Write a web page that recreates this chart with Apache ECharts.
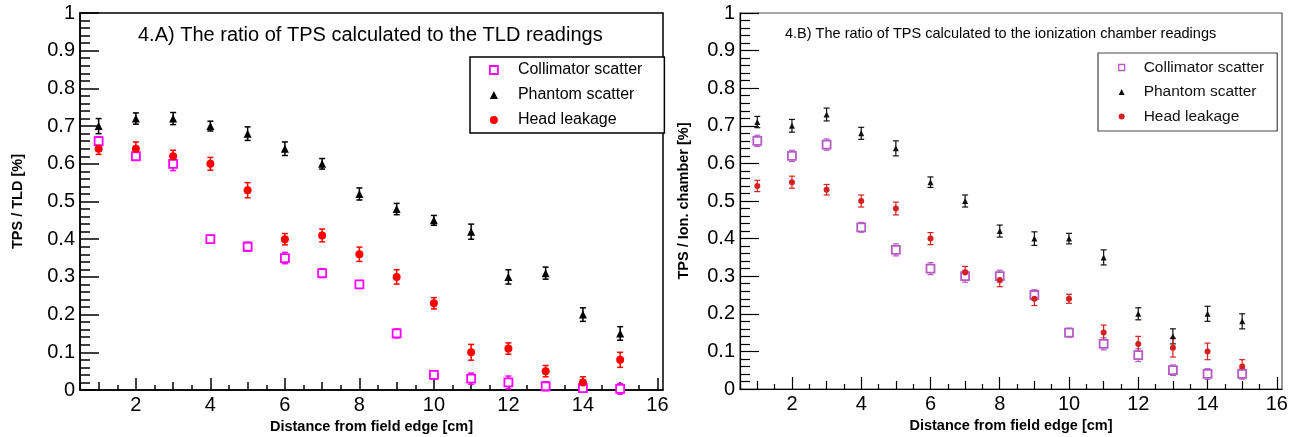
<!DOCTYPE html>
<html>
<head>
<meta charset="utf-8">
<script src="https://cdn.jsdelivr.net/npm/echarts@6/dist/echarts.min.js"></script>
<style>
html,body{margin:0;padding:0;background:#fff;}
#chart{width:1299px;height:437px;}
</style>
</head>
<body>
<div id="chart"></div>
<script>
// ---- data ----
const distances = [1,2,3,4,5,6,7,8,9,10,11,12,13,14,15];
const seriesNames = ['Collimator scatter','Phantom scatter','Head leakage'];
const titleA = '4.A) The ratio of TPS calculated to the TLD readings';
const titleB = '4.B) The ratio of TPS calculated to the ionization chamber readings';
const xTitle = 'Distance from field edge [cm]';
const yTitleA = 'TPS / TLD [%]';
const yTitleB = 'TPS / Ion. chamber [%]';
const xMajorTicks = [2,4,6,8,10,12,14,16];
const xMidTicks = [1,3,5,7,9,11,13,15];
const xMinorTicks = [0.5,1.5,2.5,3.5,4.5,5.5,6.5,7.5,8.5,9.5,10.5,11.5,12.5,13.5,14.5,15.5];

// Panel A (TLD)
const aColl = [0.66,0.62,0.60,0.40,0.38,0.35,0.31,0.28,0.15,0.04,0.03,0.02,0.01,0.005,0.003];
const aCollErr = [0.012,0.01,0.018,0.01,0.012,0.015,0.012,0.01,0.012,0.01,0.015,0.017,0.012,0.01,0.014];
const aPhan = [0.70,0.72,0.72,0.70,0.68,0.64,0.60,0.52,0.48,0.45,0.42,0.30,0.31,0.20,0.15];
const aPhanErr = [0.02,0.015,0.016,0.013,0.018,0.018,0.014,0.016,0.015,0.013,0.02,0.019,0.016,0.018,0.018];
const aHead = [0.64,0.64,0.62,0.60,0.53,0.40,0.41,0.36,0.30,0.23,0.10,0.11,0.05,0.02,0.08];
const aHeadErr = [0.015,0.018,0.016,0.017,0.02,0.015,0.017,0.019,0.019,0.015,0.021,0.015,0.015,0.015,0.02];

// Panel B (ionization chamber)
const bColl = [0.66,0.62,0.65,0.43,0.37,0.32,0.30,0.30,0.25,0.15,0.12,0.09,0.05,0.04,0.04];
const bCollErr = [0.015,0.015,0.015,0.013,0.016,0.016,0.016,0.016,0.014,0.012,0.016,0.017,0.014,0.014,0.014];
const bPhan = [0.71,0.70,0.73,0.68,0.64,0.55,0.50,0.42,0.40,0.40,0.35,0.20,0.14,0.20,0.18];
const bPhanErr = [0.015,0.017,0.017,0.016,0.02,0.014,0.016,0.016,0.018,0.014,0.02,0.016,0.02,0.02,0.02];
const bHead = [0.54,0.55,0.53,0.50,0.48,0.40,0.31,0.29,0.24,0.24,0.15,0.12,0.11,0.10,0.06];
const bHeadErr = [0.015,0.016,0.014,0.016,0.017,0.016,0.016,0.018,0.018,0.012,0.02,0.02,0.025,0.022,0.018];

// ---- styling ----
const FONT = "'Liberation Sans', Arial, sans-serif";
const colA = {coll:'#ff00ff', phan:'#000000', head:'#ff0000'};
const colB = {coll:'#b55cc4', phan:'#111111', head:'#d42020'};

function pts(vals){ return distances.map((d,i)=>[d, vals[i]]); }
function errPts(vals, errs){ return distances.map((d,i)=>[d, vals[i], errs[i]]); }

function errRender(cap, lw){
  return function(params, api){
    const x = api.value(0), y = api.value(1), e = api.value(2);
    const top = api.coord([x, y + e]);
    const bot = api.coord([x, y - e]);
    const c = api.visual('color');
    const st = {stroke:c, lineWidth:lw};
    return {type:'group', children:[
      {type:'line', shape:{x1:top[0], y1:top[1], x2:bot[0], y2:bot[1]}, style:st},
      {type:'line', shape:{x1:top[0]-cap, y1:top[1], x2:top[0]+cap, y2:top[1]}, style:st},
      {type:'line', shape:{x1:bot[0]-cap, y1:bot[1], x2:bot[0]+cap, y2:bot[1]}, style:st}
    ]};
  };
}

function xAxesFor(gi, lw){
  const base = {gridIndex:gi, type:'value', min:0.5, max:16.15, position:'bottom', offset:0,
    splitLine:{show:false}};
  return [
    Object.assign({}, base, {
      axisLine:{show:true, lineStyle:{color:'#000', width:lw}},
      axisTick:{show:true, inside:true, length:12, customValues:xMajorTicks, lineStyle:{color:'#000', width:lw}},
      axisLabel:{show:true, customValues:xMajorTicks, fontSize:20, color:'#000', fontFamily:FONT, margin:5},
      name:xTitle, nameLocation:'middle', nameGap:28,
      nameTextStyle:{fontFamily:FONT, fontWeight:'bold', fontSize:14.5, color:'#000'}
    }),
    Object.assign({}, base, {
      axisLine:{show:false},
      axisTick:{show:true, inside:true, length:8, customValues:xMidTicks, lineStyle:{color:'#000', width:lw}},
      axisLabel:{show:false}
    }),
    Object.assign({}, base, {
      axisLine:{show:false},
      axisTick:{show:true, inside:true, length:5, customValues:xMinorTicks, lineStyle:{color:'#000', width:lw}},
      axisLabel:{show:false}
    })
  ];
}

function yAxisFor(gi, name, gap, lw){
  return {gridIndex:gi, type:'value', min:0, max:1, interval:0.1, position:'left',
    splitLine:{show:false},
    axisLine:{show:true, lineStyle:{color:'#000', width:lw}},
    axisTick:{show:true, inside:true, length:19, lineStyle:{color:'#000', width:lw}},
    minorTick:{show:true, splitNumber:5, length:10, lineStyle:{color:'#000', width:lw}},
    axisLabel:{fontSize:20, color:'#000', fontFamily:FONT, margin:5},
    name:name, nameLocation:'middle', nameGap:gap, nameRotate:90,
    nameTextStyle:{fontFamily:FONT, fontWeight:'bold', fontSize:14.5, color:'#000'}
  };
}

function scatterSeries(name, data, xi, yi, symbol, size, color, hollow){
  return {type:'scatter', name:name, xAxisIndex:xi, yAxisIndex:yi, data:data,
    symbol:symbol, symbolSize:size, z:3,
    itemStyle: hollow ? {color:'#fff', borderColor:color, borderWidth:1.8, opacity:1}
                      : {color:color, opacity:1},
    emphasis:{disabled:true}};
}
function errSeries(data, xi, yi, color, cap, lw){
  return {type:'custom', name:'err', xAxisIndex:xi, yAxisIndex:yi, data:data,
    renderItem:errRender(cap, lw), itemStyle:{color:color}, z:2, silent:true};
}

const chart = echarts.init(document.getElementById('chart'), null, {renderer:'canvas'});
const option = {
  backgroundColor:'#fff',
  animation:false,
  title:[
    {text:titleA, left:138, top:25, padding:0,
      textStyle:{fontFamily:FONT, fontWeight:'normal', fontSize:20, color:'#000'}},
    {text:titleB, left:785, top:26, padding:0,
      textStyle:{fontFamily:FONT, fontWeight:'normal', fontSize:14.5, color:'#000'}}
  ],
  legend:[
    {left:470, top:57, orient:'vertical', padding:[4,22,4,19], itemGap:7,
      itemWidth:8, itemHeight:8, borderColor:'#000', borderWidth:1.5, backgroundColor:'#fff',
      selectedMode:false,
      textStyle:{fontFamily:FONT, fontSize:16, color:'#000', lineHeight:18, padding:[0,0,0,15]},
      data:[
        {name:seriesNames[0], icon:'rect', itemStyle:{color:'#fff', borderColor:colA.coll, borderWidth:1.8}},
        {name:seriesNames[1], icon:'triangle', itemStyle:{color:colA.phan, borderWidth:0}},
        {name:seriesNames[2], icon:'circle', itemStyle:{color:colA.head, borderWidth:0}}
      ]},
    {left:1098, top:53, orient:'vertical', padding:[6,13,6,20], itemGap:7.5,
      itemWidth:6, itemHeight:6, borderColor:'#444', borderWidth:1.2, backgroundColor:'#fff',
      selectedMode:false,
      textStyle:{fontFamily:FONT, fontSize:15.5, color:'#111', lineHeight:17, padding:[0,0,0,14]},
      data:[
        {name:seriesNames[0], icon:'rect', itemStyle:{color:'#fff', borderColor:colB.coll, borderWidth:1.3}},
        {name:seriesNames[1], icon:'triangle', itemStyle:{color:colB.phan, borderWidth:0}},
        {name:seriesNames[2], icon:'circle', itemStyle:{color:colB.head, borderWidth:0}}
      ]}
  ],
  grid:[
    {left:80, top:13, width:583, height:377, show:true, borderColor:'#000', borderWidth:1.5,
      backgroundColor:'transparent', containLabel:false, outerBoundsMode:'none'},
    {left:740, top:13, width:542, height:376, show:true, borderColor:'#555', borderWidth:1.2,
      backgroundColor:'transparent', containLabel:false, outerBoundsMode:'none'}
  ],
  xAxis: xAxesFor(0, 1.5).concat(xAxesFor(1, 1.2)),
  yAxis:[ yAxisFor(0, yTitleA, 55, 1.5), yAxisFor(1, yTitleB, 49, 1.2) ],
  series:[
    errSeries(errPts(aColl, aCollErr), 0, 0, colA.coll, 3, 1.5),
    errSeries(errPts(aPhan, aPhanErr), 0, 0, colA.phan, 3, 1.5),
    errSeries(errPts(aHead, aHeadErr), 0, 0, colA.head, 3, 1.5),
    scatterSeries(seriesNames[0], pts(aColl), 0, 0, 'rect', 8, colA.coll, true),
    scatterSeries(seriesNames[1], pts(aPhan), 0, 0, 'triangle', 8, colA.phan, false),
    scatterSeries(seriesNames[2], pts(aHead), 0, 0, 'circle', 8, colA.head, false),
    errSeries(errPts(bColl, bCollErr), 3, 1, colB.coll, 3, 1.2),
    errSeries(errPts(bPhan, bPhanErr), 3, 1, colB.phan, 3, 1.2),
    errSeries(errPts(bHead, bHeadErr), 3, 1, colB.head, 3, 1.2),
    scatterSeries(seriesNames[0], pts(bColl), 3, 1, 'rect', 8, colB.coll, true),
    scatterSeries(seriesNames[1], pts(bPhan), 3, 1, 'triangle', 6, colB.phan, false),
    scatterSeries(seriesNames[2], pts(bHead), 3, 1, 'circle', 6, colB.head, false)
  ]
};
chart.setOption(option);
</script>
</body>
</html>
